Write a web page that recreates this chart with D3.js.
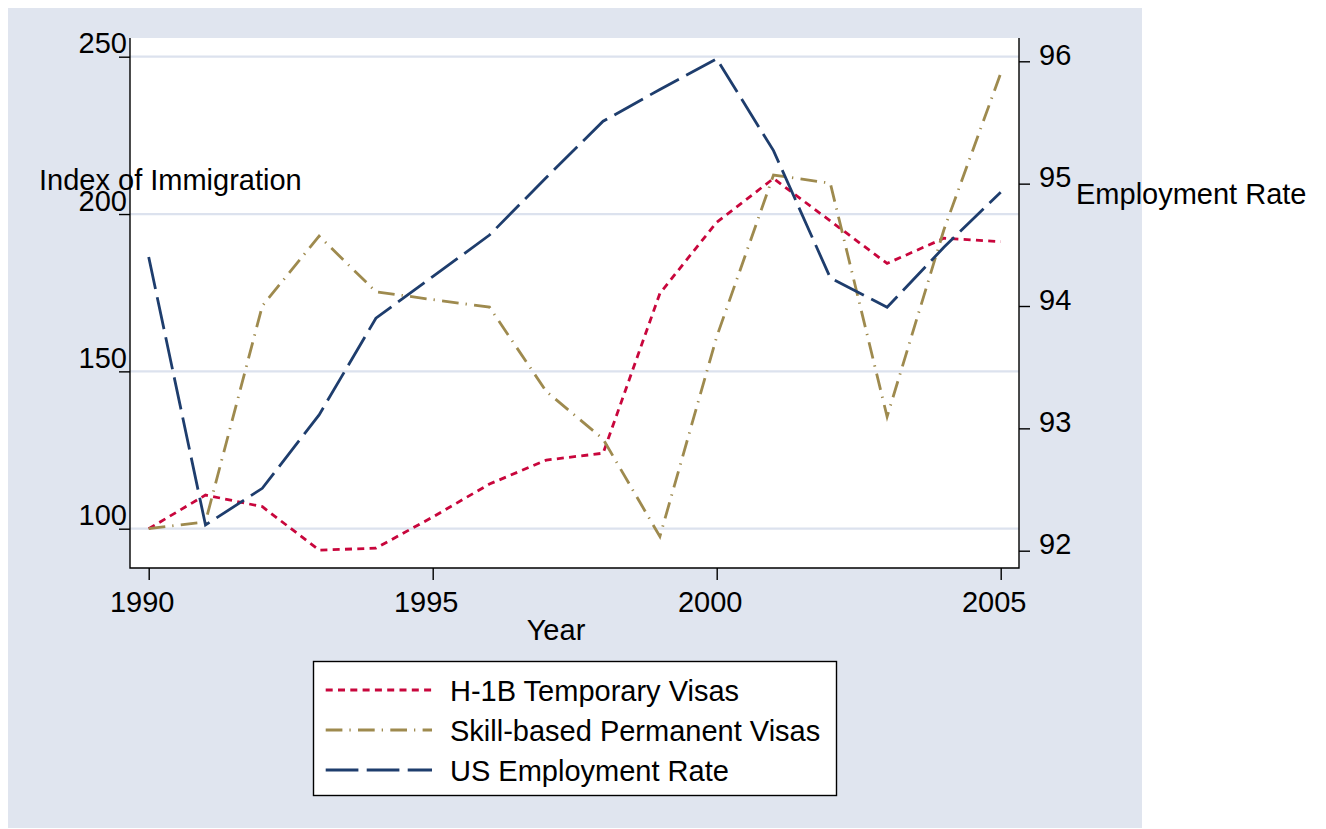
<!DOCTYPE html>
<html>
<head>
<meta charset="utf-8">
<script src="https://cdn.jsdelivr.net/npm/d3@7"></script>
<style>
  body { margin: 0; background: #fff; }
  text { font-family: "Liberation Sans", Arial, sans-serif; fill: #000; }
</style>
</head>
<body>
<div id="chart"></div>
<script>
// values
var years = [1990, 1991, 1992, 1993, 1994, 1995, 1996, 1997, 1998, 1999, 2000, 2001, 2002, 2003, 2004, 2005];
var h1b   = [100, 110.7, 107, 93.2, 93.8, 103.7, 114.2, 121.8, 124, 174.8, 197.4, 211.3, 197.8, 184.3, 192.3, 191.2];
var skill = [100, 102.2, 170.8, 193, 175.3, 172.8, 170.4, 143.6, 128.5, 97.5, 161, 212.4, 209.8, 135.6, 195, 244.7];
var empRate = [94.40, 92.21, 92.51, 93.11, 93.90, 94.24, 94.58, 95.05, 95.51, 95.77, 96.02, 95.27, 94.23, 93.99, 94.48, 94.93];

var xTicks = [1990, 1995, 2000, 2005];
var leftTicks = [100, 150, 200, 250];
var rightTicks = [92, 93, 94, 95, 96];
var legendLabels = ["H-1B Temporary Visas", "Skill-based Permanent Visas", "US Employment Rate"];

var W = 1326, H = 829;
var plot = { left: 130, right: 1019, top: 38, bottom: 568 };

var svg = d3.select("#chart").append("svg")
    .attr("width", W).attr("height", H);

// outer graph region
svg.append("rect").attr("x", 8).attr("y", 8).attr("width", 1134).attr("height", 820)
    .attr("fill", "#e0e5ef");
svg.append("rect").attr("x", plot.left).attr("y", plot.top)
    .attr("width", plot.right - plot.left).attr("height", plot.bottom - plot.top)
    .attr("fill", "#fff");

var x = d3.scaleLinear().domain([1990, 2005]).range([148.7, 1000.7]);
var yL = d3.scaleLinear().domain([100, 250]).range([528.7, 56.7]);
var yR = d3.scaleLinear().domain([92, 96]).range([550.7, 61.3]);

// gridlines on the left scale
svg.append("g").selectAll("line").data(leftTicks).enter().append("line")
    .attr("x1", plot.left).attr("x2", plot.right)
    .attr("y1", function(d) { return yL(d); }).attr("y2", function(d) { return yL(d); })
    .attr("stroke", "#dce2ee").attr("stroke-width", 2.2);

// series
var series = [
  { name: legendLabels[0], vals: h1b, scale: yL, color: "#c8063c", dash: "7,5.3" },
  { name: legendLabels[1], vals: skill, scale: yL, color: "#9e8a4e", dash: "16.7,7,1.3,7.3" },
  { name: legendLabels[2], vals: empRate, scale: yR, color: "#1e3d6d", dash: "32.7,8.3" }
];

series.forEach(function(s) {
  svg.append("path")
      .datum(years)
      .attr("fill", "none")
      .attr("stroke", s.color)
      .attr("stroke-width", 2.8)
      .attr("stroke-dasharray", s.dash)
      .attr("d", d3.line()
          .x(function(d) { return x(d); })
          .y(function(d, i) { return s.scale(s.vals[i]); }));
});

// frame
svg.append("path")
    .attr("d", "M" + plot.left + "," + plot.top + "V" + plot.bottom + "H" + plot.right + "V" + plot.top)
    .attr("fill", "none").attr("stroke", "#000").attr("stroke-width", 1.4);

// axes
var axL = svg.append("g").attr("transform", "translate(" + plot.left + ",0)")
    .call(d3.axisLeft(yL).tickValues(leftTicks).tickFormat(d3.format("d")).tickSize(11).tickSizeOuter(0));
axL.select(".domain").remove();
axL.selectAll("text").attr("x", -3).attr("dy", -4);

var axR = svg.append("g").attr("transform", "translate(" + plot.right + ",0)")
    .call(d3.axisRight(yR).tickValues(rightTicks).tickFormat(d3.format("d")).tickSize(11).tickSizeOuter(0));
axR.select(".domain").remove();
axR.selectAll("text").attr("x", 20).attr("dy", 3);

var axB = svg.append("g").attr("transform", "translate(0," + plot.bottom + ")")
    .call(d3.axisBottom(x).tickValues(xTicks).tickFormat(d3.format("d")).tickSize(12).tickSizeOuter(0));
axB.select(".domain").remove();
axB.selectAll("text").attr("x", -7).attr("y", 44).attr("dy", 0);

[axL, axR, axB].forEach(function(a) {
  a.selectAll("line").attr("stroke", "#000").attr("stroke-width", 1.4);
  a.selectAll("text").attr("font-size", 29).attr("fill", "#000")
      .attr("font-family", "'Liberation Sans', Arial, sans-serif");
});

// axis titles
svg.append("text").attr("x", 39).attr("y", 190).attr("font-size", 29).text("Index of Immigration");
svg.append("text").attr("x", 1076).attr("y", 204).attr("font-size", 29).text("Employment Rate");
svg.append("text").attr("x", 556).attr("y", 640).attr("text-anchor", "middle").attr("font-size", 29).text("Year");

// legend
var lg = svg.append("g");
lg.append("rect").attr("x", 313.5).attr("y", 661.5).attr("width", 523).attr("height", 134)
    .attr("fill", "#fff").attr("stroke", "#000").attr("stroke-width", 1.4);
var rowY = d3.scalePoint().domain(legendLabels).range([690, 770]);
series.forEach(function(s) {
  lg.append("line")
      .attr("x1", 325.7).attr("x2", 432)
      .attr("y1", rowY(s.name)).attr("y2", rowY(s.name))
      .attr("stroke", s.color).attr("stroke-width", 2.8)
      .attr("stroke-dasharray", s.dash);
  lg.append("text").attr("x", 450).attr("y", rowY(s.name) + 10.5)
      .attr("font-size", 29).text(s.name);
});
</script>
</body>
</html>
